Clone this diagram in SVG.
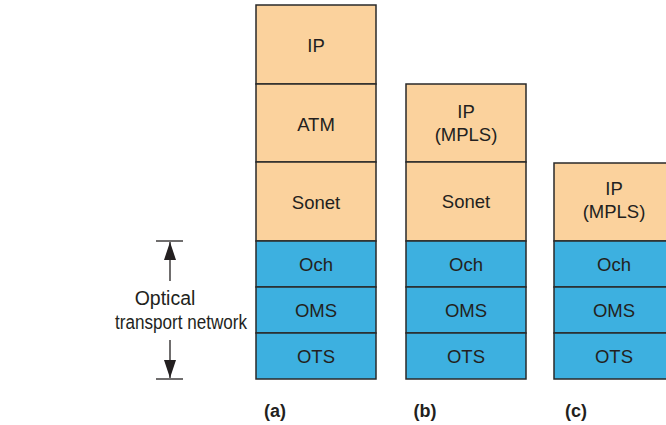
<svg xmlns="http://www.w3.org/2000/svg" width="666" height="425" viewBox="0 0 666 425">
<defs>
<style>
.o{fill:#FBD29D;stroke:#2a2a2a;stroke-width:1.5}
.b{fill:#3DB0E0;stroke:#2a2a2a;stroke-width:1.5}
text{font-family:"Liberation Sans",Arial,sans-serif;font-size:18.5px;fill:#231f20;text-anchor:middle}
.lab{font-weight:bold;font-size:18px}
.side{font-size:19.5px}
.ln{stroke:#231f20;stroke-width:1.3;fill:none}
</style>
<marker id="ah" viewBox="0 0 18 12" refX="18" refY="6" markerWidth="18" markerHeight="12" markerUnits="userSpaceOnUse" orient="auto"><path d="M0,0 L18,6 L0,12 z" fill="#231f20"/></marker>
</defs>
<g id="stack-a">
<g id="a-ip"><rect class="o" x="256" y="5" width="120" height="79"/><text x="316" y="52">IP</text></g>
<g id="a-atm"><rect class="o" x="256" y="84" width="120" height="78"/><text x="316" y="131">ATM</text></g>
<g id="a-sonet"><rect class="o" x="256" y="162" width="120" height="79"/><text x="316" y="209">Sonet</text></g>
<g id="a-och"><rect class="b" x="256" y="241" width="120" height="46"/><text x="316" y="271">Och</text></g>
<g id="a-oms"><rect class="b" x="256" y="287" width="120" height="46"/><text x="316" y="317">OMS</text></g>
<g id="a-ots"><rect class="b" x="256" y="333" width="120" height="46"/><text x="316" y="363">OTS</text></g>
</g>
<g id="stack-b">
<g id="b-ip"><rect class="o" x="406" y="84" width="120" height="78"/><text x="466" y="118">IP</text><text x="466" y="141">(MPLS)</text></g>
<g id="b-sonet"><rect class="o" x="406" y="162" width="120" height="79"/><text x="466" y="208">Sonet</text></g>
<g id="b-och"><rect class="b" x="406" y="241" width="120" height="46"/><text x="466" y="271">Och</text></g>
<g id="b-oms"><rect class="b" x="406" y="287" width="120" height="46"/><text x="466" y="317">OMS</text></g>
<g id="b-ots"><rect class="b" x="406" y="333" width="120" height="46"/><text x="466" y="363">OTS</text></g>
</g>
<g id="stack-c">
<g id="c-ip"><rect class="o" x="554" y="163" width="120" height="78"/><text x="614" y="195">IP</text><text x="614" y="218">(MPLS)</text></g>
<g id="c-och"><rect class="b" x="554" y="241" width="120" height="46"/><text x="614" y="271">Och</text></g>
<g id="c-oms"><rect class="b" x="554" y="287" width="120" height="46"/><text x="614" y="317">OMS</text></g>
<g id="c-ots"><rect class="b" x="554" y="333" width="120" height="46"/><text x="614" y="363">OTS</text></g>
</g>
<g id="connectors">
<line class="ln" x1="156" y1="241" x2="183" y2="241"/>
<line class="ln" x1="156" y1="379" x2="183" y2="379"/>
<line class="ln" x1="170" y1="281" x2="170" y2="242" marker-end="url(#ah)"/>
<line class="ln" x1="170" y1="340" x2="170" y2="378" marker-end="url(#ah)"/>
</g>
<g id="otn-label">
<text class="side" x="165" y="305">Optical</text>
<text class="side" x="181" y="329" textLength="132" lengthAdjust="spacingAndGlyphs">transport network</text>
</g>
<g id="captions">
<text class="lab" x="275" y="417">(a)</text>
<text class="lab" x="425" y="417">(b)</text>
<text class="lab" x="576" y="417">(c)</text>
</g>
</svg>
